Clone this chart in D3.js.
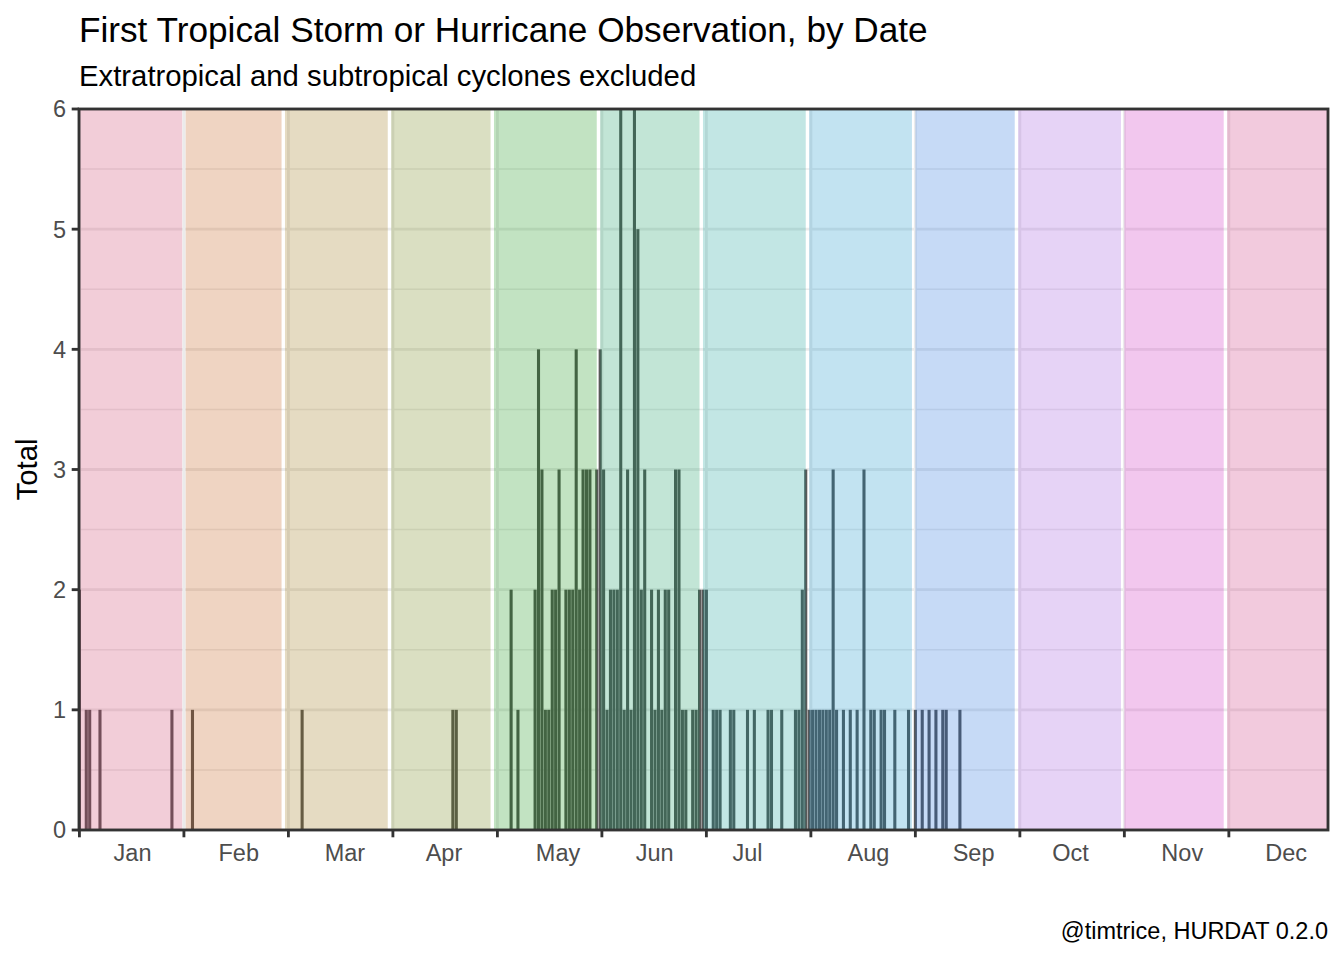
<!DOCTYPE html>
<html>
<head>
<meta charset="utf-8">
<script src="https://cdn.jsdelivr.net/npm/d3@7"></script>
<style>
  body { margin: 0; background: #fff; }
  svg { display: block; font-family: "Liberation Sans", Arial, Helvetica, sans-serif; }
</style>
</head>
<body>
<svg id="chart" width="1344" height="960"></svg>
<script>
// months of a leap year, day-of-year 1..366
var monthNames = ["Jan", "Feb", "Mar", "Apr", "May", "Jun", "Jul", "Aug", "Sep", "Oct", "Nov", "Dec"];
var monthDays = [31, 29, 31, 30, 31, 30, 31, 31, 30, 31, 30, 31];
// where ggplot put each month label (day of year)
var labelDays = [16.5, 47.5, 78.5, 107.4, 140.7, 168.9, 196, 231.3, 262, 290.3, 322.9, 353.2];
var tickDays = [1, 31.5, 62, 92.5, 123, 153.5, 184, 214.5, 245, 275.5, 306, 336.5];
var yTicks = [0, 1, 2, 3, 4, 5, 6];

// first observation per day of year
var stormDay = [1, 3, 4, 7, 28, 34, 66, 110, 111,
  127, 129, 134, 135, 136, 137, 138, 139, 140, 141, 143, 144, 145, 146, 147, 148, 149, 150, 152,
  153, 154, 155, 156, 157, 158, 159, 160, 161, 162, 163, 164, 165, 166, 168, 169, 170, 171, 172, 173,
  175, 176, 177, 178, 180, 181, 182,
  183, 184, 186, 187, 188, 191, 192, 196, 198, 202, 203, 206, 210, 211, 212, 213,
  214, 215, 216, 217, 218, 219, 220, 221, 222, 224, 226, 228, 230, 232, 233, 235, 236, 239, 243,
  245, 247, 249, 251, 253, 254, 258];
var stormTotal = [2, 1, 1, 1, 1, 1, 1, 1, 1,
  2, 1, 2, 4, 3, 1, 1, 2, 2, 3, 2, 2, 2, 4, 2, 3, 3, 3, 3,
  4, 3, 1, 2, 2, 2, 6, 1, 3, 1, 6, 5, 2, 3, 2, 1, 2, 1, 2, 2,
  3, 3, 1, 1, 1, 1, 2,
  2, 2, 1, 1, 1, 1, 1, 1, 1, 1, 1, 1, 1, 1, 2, 3,
  1, 1, 1, 1, 1, 1, 1, 3, 1, 1, 1, 1, 3, 1, 1, 1, 1, 1, 1,
  1, 1, 1, 1, 1, 1, 1];

// month fills, drawn on top of the bars with alpha
var bandColors = ["#C92C5D", "#BD4D00", "#936A00", "#667A00", "#008B00", "#009355",
  "#00978F", "#008BC5", "#0F66DA", "#9749DA", "#C913B9", "#C92372"];

function draw() {
  var svg = d3.select("#chart");
  var pL = 79, pR = 1328, pT = 109, pB = 830;
  var lw = 2.84;

  var x = d3.scaleLinear().domain([0.876, 365.44]).range([pL, pR]);
  var y = d3.scaleLinear().domain([0, 6]).range([pB, pT]);

  var bands = [];
  var start = 1;
  monthDays.forEach(function(n, i) {
    bands.push({ first: start, last: start + n - 1, color: bandColors[i] });
    start += n;
  });

  svg.append("defs").append("clipPath").attr("id", "panel")
    .append("rect").attr("x", pL).attr("y", pT).attr("width", pR - pL).attr("height", pB - pT);

  var g = svg.append("g").attr("clip-path", "url(#panel)");

  // grid
  g.selectAll("line.minor").data(d3.range(0.5, 6, 1)).enter().append("line")
    .attr("x1", pL).attr("x2", pR)
    .attr("y1", function(d) { return y(d); }).attr("y2", function(d) { return y(d); })
    .attr("stroke", "#EBEBEB").attr("stroke-width", lw / 2);
  g.selectAll("line.hmajor").data(yTicks).enter().append("line")
    .attr("x1", pL).attr("x2", pR)
    .attr("y1", function(d) { return y(d); }).attr("y2", function(d) { return y(d); })
    .attr("stroke", "#EBEBEB").attr("stroke-width", lw);
  g.selectAll("line.vmajor").data(tickDays).enter().append("line")
    .attr("y1", pT).attr("y2", pB)
    .attr("x1", function(d) { return x(d); }).attr("x2", function(d) { return x(d); })
    .attr("stroke", "#EBEBEB").attr("stroke-width", lw);

  // bars
  var dayW = x(1) - x(0);
  g.selectAll("rect.bar").data(stormDay).enter().append("rect")
    .attr("x", function(d) { return x(d) - dayW * 0.45; })
    .attr("width", dayW * 0.9)
    .attr("y", function(d, i) { return y(stormTotal[i]); })
    .attr("height", function(d, i) { return y(0) - y(stormTotal[i]); })
    .attr("fill", "#595959");

  // month bands
  g.selectAll("rect.band").data(bands).enter().append("rect")
    .attr("x", function(d) { return x(d.first); })
    .attr("width", function(d) { return x(d.last) - x(d.first); })
    .attr("y", pT).attr("height", pB - pT)
    .attr("fill", function(d) { return d.color; })
    .attr("fill-opacity", 0.241);

  // border
  svg.append("rect").attr("x", pL).attr("y", pT)
    .attr("width", pR - pL).attr("height", pB - pT)
    .attr("fill", "none").attr("stroke", "#333333").attr("stroke-width", lw);

  // axes
  var tickLen = 7.3;
  svg.selectAll("line.xt").data(tickDays).enter().append("line")
    .attr("x1", function(d) { return x(d); }).attr("x2", function(d) { return x(d); })
    .attr("y1", pB).attr("y2", pB + tickLen)
    .attr("stroke", "#333333").attr("stroke-width", lw);
  svg.selectAll("line.yt").data(yTicks).enter().append("line")
    .attr("x1", pL - tickLen).attr("x2", pL)
    .attr("y1", function(d) { return y(d); }).attr("y2", function(d) { return y(d); })
    .attr("stroke", "#333333").attr("stroke-width", lw);

  svg.selectAll("text.xl").data(monthNames).enter().append("text")
    .attr("x", function(d, i) { return x(labelDays[i]); })
    .attr("y", 861)
    .attr("text-anchor", "middle")
    .attr("font-size", 23.5).attr("fill", "#4D4D4D")
    .text(function(d) { return d; });
  svg.selectAll("text.yl").data(yTicks).enter().append("text")
    .attr("x", 66).attr("y", function(d) { return y(d) + 8.4; })
    .attr("text-anchor", "end")
    .attr("font-size", 23.5).attr("fill", "#4D4D4D")
    .text(function(d) { return d; });

  svg.append("text")
    .attr("transform", "translate(37," + (pT + pB) / 2 + ") rotate(-90)")
    .attr("text-anchor", "middle").attr("font-size", 29.3).attr("fill", "#000")
    .text("Total");

  // titles
  svg.append("text").attr("x", pL).attr("y", 42)
    .attr("font-size", 35.2).attr("fill", "#000")
    .text("First Tropical Storm or Hurricane Observation, by Date");
  svg.append("text").attr("x", pL).attr("y", 85.5)
    .attr("font-size", 29.3).attr("fill", "#000")
    .text("Extratropical and subtropical cyclones excluded");
  svg.append("text").attr("x", pR).attr("y", 938.5)
    .attr("text-anchor", "end")
    .attr("font-size", 23.5).attr("fill", "#000")
    .text("@timtrice, HURDAT 0.2.0");
}

draw();
</script>
</body>
</html>
